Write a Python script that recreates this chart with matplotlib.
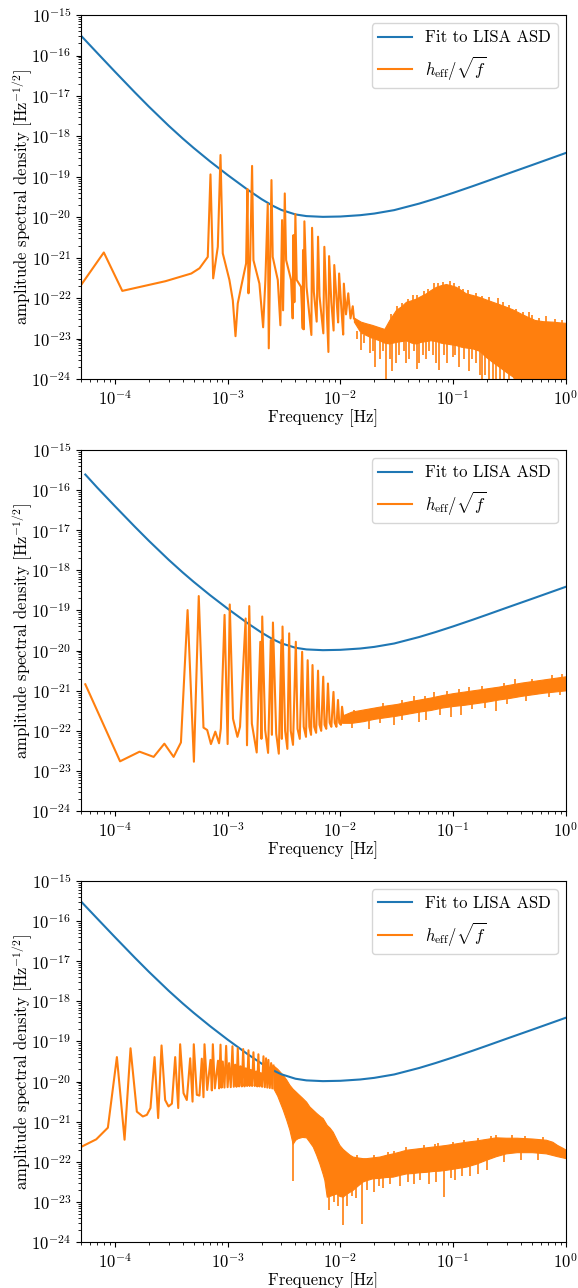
import matplotlib
matplotlib.use("Agg")
import matplotlib.pyplot as plt
from matplotlib.ticker import LogLocator, NullFormatter
import numpy as np

plt.rcParams["font.family"] = "serif"
plt.rcParams["font.serif"] = ["cmr10"]
plt.rcParams["mathtext.fontset"] = "cm"
plt.rcParams["axes.formatter.use_mathtext"] = True
plt.rcParams["axes.unicode_minus"] = False
plt.rcParams["font.size"] = 12

# LISA ASD fit, Hz and Hz^-1/2
asd_f = [5e-5, 7e-5, 1e-4, 1.5e-4, 2e-4, 3e-4, 4e-4, 5e-4, 7e-4, 1e-3, 1.5e-3,
         2e-3, 2.5e-3, 3e-3, 4e-3, 5e-3, 7e-3, 1e-2, 1.5e-2, 2e-2, 3e-2, 5e-2,
         7e-2, 0.1, 0.15, 0.2, 0.3, 0.5, 0.7, 1.0]
asd_v = [3.11e-16, 1.146e-16, 4.00e-17, 1.234e-17, 5.48e-18, 1.837e-18, 8.86e-19,
         5.18e-19, 2.40e-19, 1.112e-19, 4.85e-20, 2.81e-20, 1.94e-20, 1.517e-20,
         1.176e-20, 1.070e-20, 1.025e-20, 1.045e-20, 1.127e-20, 1.237e-20,
         1.503e-20, 2.18e-20, 2.90e-20, 4.01e-20, 5.91e-20, 7.85e-20, 1.178e-19,
         1.951e-19, 2.73e-19, 3.90e-19]
asd_start2 = (5.47e-5, 2.45e-16)  # second panel's series begins a bit later

# h_eff/sqrt(f): line part as (log10 f, log10 asd)
line1 = [(-4.301, -21.68), (-4.098, -20.87), (-3.934, -21.82), (-3.551, -21.58),
         (-3.322, -21.39), (-3.249, -21.26), (-3.176, -20.98), (-3.152, -18.94),
         (-3.128, -21.51), (-3.087, -20.73), (-3.063, -18.46), (-3.043, -20.89),
         (-2.984, -21.55), (-2.954, -22.05), (-2.930, -22.94), (-2.910, -22.13),
         (-2.880, -21.72), (-2.836, -21.14), (-2.824, -19.30), (-2.815, -21.88),
         (-2.800, -21.06), (-2.783, -18.73), (-2.771, -21.06), (-2.718, -21.64),
         (-2.685, -22.72), (-2.665, -21.55), (-2.644, -19.67), (-2.635, -23.24),
         (-2.611, -19.08), (-2.600, -20.98), (-2.555, -21.55), (-2.532, -22.67),
         (-2.517, -20.07), (-2.508, -22.30), (-2.493, -19.41), (-2.481, -21.06),
         (-2.437, -21.55), (-2.423, -22.50), (-2.416, -20.44), (-2.408, -22.10),
         (-2.399, -19.92), (-2.387, -21.55), (-2.349, -21.72), (-2.334, -22.75),
         (-2.331, -20.81), (-2.325, -22.77), (-2.319, -20.10), (-2.300, -21.72),
         (-2.257, -22.91), (-2.251, -20.26), (-2.235, -21.85), (-2.210, -22.58),
         (-2.198, -20.48), (-2.185, -21.95), (-2.151, -22.87), (-2.142, -20.73),
         (-2.125, -22.00), (-2.106, -23.33), (-2.100, -20.96), (-2.080, -22.10),
         (-2.060, -22.80), (-2.054, -21.18), (-2.030, -22.20), (-2.020, -22.60),
         (-2.011, -21.39), (-1.990, -22.30), (-1.975, -22.90), (-1.969, -21.64),
         (-1.950, -22.40), (-1.930, -21.88), (-1.910, -22.50), (-1.890, -22.20),
         (-1.880, -22.50)]

line2 = [(-4.262, -20.84), (-3.954, -22.76), (-3.781, -22.52), (-3.656, -22.65),
         (-3.561, -22.32), (-3.479, -22.65), (-3.414, -22.29), (-3.355, -18.99),
         (-3.299, -22.77), (-3.256, -18.64), (-3.214, -21.92), (-3.181, -21.98),
         (-3.148, -22.33), (-3.109, -22.02), (-3.076, -22.31), (-3.060, -21.94),
         (-3.027, -19.11), (-3.000, -22.33), (-2.981, -18.85), (-2.952, -21.70),
         (-2.913, -22.15), (-2.890, -21.90), (-2.840, -19.20), (-2.828, -22.36),
         (-2.808, -18.89), (-2.785, -21.82), (-2.742, -22.54), (-2.710, -19.78),
         (-2.700, -22.20), (-2.693, -19.15), (-2.667, -21.98), (-2.641, -22.55),
         (-2.617, -19.74), (-2.607, -22.10), (-2.598, -19.30), (-2.569, -22.07),
         (-2.546, -22.57), (-2.523, -19.74), (-2.519, -22.20), (-2.513, -19.40),
         (-2.490, -22.00), (-2.470, -22.45), (-2.454, -19.57), (-2.440, -22.00),
         (-2.420, -22.35), (-2.395, -19.78), (-2.380, -21.95), (-2.360, -22.20),
         (-2.339, -20.03), (-2.325, -21.90), (-2.305, -22.15), (-2.290, -20.24),
         (-2.275, -21.90), (-2.260, -22.10), (-2.247, -20.36), (-2.232, -21.90),
         (-2.215, -22.05), (-2.198, -20.50), (-2.185, -21.85), (-2.170, -22.00),
         (-2.152, -20.65), (-2.140, -21.85), (-2.125, -21.95), (-2.110, -20.82),
         (-2.095, -21.80), (-2.080, -21.90), (-2.061, -21.03), (-2.050, -21.80),
         (-2.035, -21.90), (-2.021, -21.23), (-2.010, -21.80), (-1.995, -21.85),
         (-1.985, -21.40), (-1.970, -21.75)]

line3 = [(-4.307, -21.64), (-4.165, -21.44), (-4.062, -21.15), (-3.982, -19.39),
         (-3.914, -21.45), (-3.861, -19.17), (-3.805, -20.75), (-3.752, -20.87),
         (-3.716, -20.83), (-3.684, -20.66), (-3.648, -19.39), (-3.616, -20.91),
         (-3.586, -19.10), (-3.554, -20.46), (-3.524, -20.62), (-3.494, -20.55),
         (-3.465, -19.39), (-3.438, -20.66), (-3.421, -19.07), (-3.391, -20.29),
         (-3.362, -20.46), (-3.332, -19.42), (-3.311, -20.50), (-3.300, -19.07),
         (-3.273, -20.33), (-3.250, -20.35), (-3.229, -19.43), (-3.214, -20.39),
         (-3.205, -19.07), (-3.181, -20.21), (-3.152, -19.46), (-3.140, -20.22),
         (-3.131, -19.07), (-3.113, -20.17), (-3.085, -19.48), (-3.075, -20.17),
         (-3.063, -19.08), (-3.053, -20.15), (-3.043, -19.50), (-3.028, -20.15),
         (-3.013, -19.11), (-3.000, -20.14), (-2.987, -19.54), (-2.972, -20.14),
         (-2.957, -19.12), (-2.945, -20.13), (-2.933, -19.58), (-2.921, -20.13),
         (-2.910, -19.17), (-2.898, -20.12), (-2.886, -19.62), (-2.874, -20.12),
         (-2.862, -19.19), (-2.850, -20.12), (-2.839, -19.67), (-2.827, -20.11),
         (-2.815, -19.22), (-2.805, -20.11), (-2.795, -19.71), (-2.783, -20.11),
         (-2.771, -19.27), (-2.759, -20.11), (-2.747, -19.75), (-2.737, -20.12),
         (-2.727, -19.32), (-2.717, -20.12), (-2.706, -19.79), (-2.694, -20.13),
         (-2.682, -19.37), (-2.670, -20.14), (-2.659, -19.42), (-2.648, -20.15),
         (-2.638, -19.46), (-2.626, -20.16), (-2.614, -19.54), (-2.604, -20.17),
         (-2.594, -19.60)]

# dense noisy part: (log10 f, upper, lower)
band1 = [(-1.88, -22.48, -22.58), (-1.82, -22.58, -22.85), (-1.773, -22.62, -22.91),
         (-1.72, -22.66, -22.98), (-1.655, -22.72, -23.04), (-1.61, -22.76, -23.10),
         (-1.566, -22.54, -23.12), (-1.507, -22.29, -23.08), (-1.46, -22.20, -23.06),
         (-1.418, -22.09, -23.04), (-1.37, -22.05, -23.10), (-1.33, -22.01, -23.12),
         (-1.29, -21.95, -23.08), (-1.241, -21.88, -23.06), (-1.20, -21.80, -23.04),
         (-1.152, -21.72, -23.06), (-1.11, -21.68, -23.10), (-1.064, -21.65, -23.12),
         (-1.02, -21.68, -23.14), (-0.975, -21.72, -23.16), (-0.93, -21.80, -23.20),
         (-0.887, -21.88, -23.22), (-0.83, -21.92, -23.24), (-0.768, -21.97, -23.30),
         (-0.71, -22.03, -23.45), (-0.65, -22.09, -23.58), (-0.59, -22.15, -23.70),
         (-0.532, -22.21, -23.82), (-0.47, -22.28, -23.94), (-0.40, -22.38, -24.3),
         (-0.34, -22.46, -24.3), (-0.275, -22.54, -24.3), (-0.20, -22.57, -24.3),
         (-0.12, -22.58, -24.3), (-0.05, -22.60, -24.3), (0.0, -22.61, -24.3)]

band2 = [(-1.985, -21.62, -21.80), (-1.90, -21.52, -21.80), (-1.80, -21.47, -21.76),
         (-1.70, -21.42, -21.70), (-1.60, -21.37, -21.66), (-1.50, -21.33, -21.62),
         (-1.40, -21.27, -21.57), (-1.30, -21.22, -21.52), (-1.20, -21.17, -21.48),
         (-1.10, -21.11, -21.42), (-1.00, -21.06, -21.38), (-0.90, -21.02, -21.35),
         (-0.80, -20.98, -21.31), (-0.70, -20.94, -21.27), (-0.60, -20.90, -21.22),
         (-0.50, -20.85, -21.18), (-0.40, -20.80, -21.13), (-0.30, -20.76, -21.09),
         (-0.20, -20.72, -21.05), (-0.10, -20.68, -21.02), (0.0, -20.64, -20.99)]

band3 = [(-2.594, -19.60, -20.17), (-2.56, -19.68, -20.35), (-2.511, -19.83, -20.70),
         (-2.48, -19.95, -20.95), (-2.452, -20.08, -21.20), (-2.423, -20.18, -21.55),
         (-2.40, -20.24, -21.45), (-2.378, -20.30, -21.41), (-2.34, -20.40, -21.38),
         (-2.304, -20.50, -21.39), (-2.275, -20.62, -21.50), (-2.245, -20.70, -21.62),
         (-2.215, -20.78, -21.82), (-2.186, -20.85, -22.04), (-2.157, -20.91, -22.30),
         (-2.142, -20.98, -22.45), (-2.121, -21.08, -22.87), (-2.095, -21.15, -22.85),
         (-2.068, -21.25, -22.82), (-2.038, -21.42, -22.79), (-2.009, -21.58, -22.85),
         (-1.979, -21.68, -22.87), (-1.95, -21.75, -22.80), (-1.92, -21.82, -22.75),
         (-1.891, -21.87, -22.70), (-1.85, -21.89, -22.60), (-1.802, -21.91, -22.49),
         (-1.773, -21.91, -22.46), (-1.714, -21.89, -22.41), (-1.654, -21.87, -22.40),
         (-1.60, -21.83, -22.38), (-1.536, -21.79, -22.37), (-1.48, -21.75, -22.33),
         (-1.418, -21.70, -22.29), (-1.36, -21.68, -22.28), (-1.30, -21.66, -22.26),
         (-1.241, -21.64, -22.25), (-1.182, -21.62, -22.23), (-1.12, -21.60, -22.22),
         (-1.064, -21.58, -22.20), (-0.975, -21.54, -22.16), (-0.886, -21.50, -22.12),
         (-0.80, -21.47, -22.05), (-0.709, -21.43, -21.95), (-0.621, -21.39, -21.86),
         (-0.532, -21.40, -21.79), (-0.436, -21.40, -21.76), (-0.30, -21.42, -21.76),
         (-0.177, -21.45, -21.79), (-0.12, -21.50, -21.83), (-0.078, -21.58, -21.86),
         (-0.03, -21.65, -21.89), (0.0, -21.70, -21.91)]

# single spikes sticking out of the noise: (log10 f, from, to)
spikes1 = [(-1.85, -23.0, -22.8), (-1.817, -23.28, -22.85), (-1.79, -23.1, -22.9),
           (-1.74, -23.35, -22.95), (-1.71, -23.3, -23.0), (-1.69, -23.7, -23.0),
           (-1.65, -23.5, -23.0), (-1.62, -23.3, -23.05), (-1.595, -24.3, -23.1),
           (-1.56, -23.5, -23.1), (-1.54, -23.8, -23.1), (-1.507, -23.6, -23.05),
           (-1.48, -23.4, -23.05), (-1.44, -23.3, -23.0), (-1.42, -23.6, -23.0),
           (-1.39, -23.5, -23.05), (-1.35, -23.3, -23.05), (-1.324, -23.74, -23.05),
           (-1.30, -23.6, -23.05), (-1.27, -23.4, -23.05), (-1.24, -23.5, -23.0),
           (-1.21, -23.3, -23.0), (-1.18, -23.4, -23.0), (-1.15, -23.6, -23.0),
           (-1.123, -23.78, -23.05), (-1.08, -23.4, -23.05), (-1.05, -23.6, -23.05),
           (-1.0, -23.45, -23.1), (-0.98, -23.4, -23.1), (-0.95, -23.7, -23.1),
           (-0.90, -23.5, -23.15), (-0.86, -23.8, -23.15), (-0.83, -23.5, -23.2),
           (-0.80, -23.6, -23.2), (-0.76, -23.9, -23.25), (-0.74, -24.3, -23.3),
           (-0.72, -23.9, -23.35), (-0.68, -24.3, -23.45), (-0.65, -24.3, -23.5),
           (-0.62, -24.0, -23.6), (-0.58, -24.3, -23.65), (-0.55, -24.3, -23.75),
           (-0.50, -24.3, -23.85),
           (-1.55, -22.6, -22.38), (-1.50, -22.4, -22.2), (-1.45, -22.3, -22.12),
           (-1.40, -22.2, -22.02), (-1.36, -22.1, -21.92), (-1.32, -22.1, -21.93),
           (-1.26, -22.0, -21.82), (-1.22, -21.95, -21.78), (-1.17, -21.85, -21.62),
           (-1.13, -21.8, -21.62), (-1.09, -21.78, -21.60), (-1.03, -21.76, -21.58),
           (-0.99, -21.8, -21.63), (-0.95, -21.86, -21.70), (-0.91, -21.95, -21.78),
           (-0.87, -21.98, -21.80), (-0.80, -22.05, -21.88), (-0.74, -22.1, -21.94),
           (-0.68, -22.15, -21.98), (-0.60, -22.25, -22.0), (-0.56, -22.28, -22.10),
           (-0.50, -22.35, -22.18), (-0.44, -22.42, -22.26), (-0.38, -22.5, -22.33),
           (-0.33, -22.55, -22.33), (-0.30, -22.6, -22.42), (-0.24, -22.65, -22.48),
           (-0.18, -22.65, -22.45), (-0.10, -22.7, -22.52), (-0.03, -22.7, -22.55)]

spikes2 = [(-1.90, -21.92, -21.75), (-1.75, -21.95, -21.7), (-1.65, -21.8, -21.6),
           (-1.52, -21.85, -21.6), (-1.45, -21.72, -21.55), (-1.30, -21.78, -21.5),
           (-1.24, -21.72, -21.45), (-1.12, -21.6, -21.4), (-1.02, -21.66, -21.4),
           (-0.93, -21.60, -21.35), (-0.83, -21.45, -21.28), (-0.72, -21.42, -21.25),
           (-0.62, -21.50, -21.22), (-0.52, -21.32, -21.15), (-0.35, -21.25, -21.08),
           (-0.15, -21.15, -21.0), (-0.05, -21.1, -20.95),
           (-1.88, -21.6, -21.47), (-1.62, -21.45, -21.30), (-1.45, -21.38, -21.22),
           (-1.35, -21.30, -21.14), (-1.25, -21.28, -21.12), (-1.17, -21.2, -21.02),
           (-1.05, -21.15, -21.0), (-0.95, -21.1, -20.96), (-0.86, -21.05, -20.9),
           (-0.74, -21.02, -20.88), (-0.55, -20.95, -20.8), (-0.45, -20.85, -20.72),
           (-0.30, -20.85, -20.70), (-0.12, -20.78, -20.62), (-0.03, -20.72, -20.58)]

spikes3 = [(-2.417, -22.49, -21.5), (-2.10, -23.2, -22.8), (-2.06, -23.0, -22.8),
           (-2.02, -23.1, -22.8), (-1.979, -23.58, -22.8), (-1.94, -23.1, -22.75),
           (-1.90, -22.85, -22.6), (-1.86, -22.9, -22.6), (-1.808, -23.55, -22.45),
           (-1.76, -22.7, -22.4), (-1.70, -22.75, -22.4), (-1.66, -22.6, -22.35),
           (-1.62, -22.65, -22.38), (-1.56, -22.55, -22.33), (-1.47, -22.6, -22.3),
           (-1.40, -22.5, -22.25), (-1.35, -22.55, -22.28), (-1.29, -22.45, -22.22),
           (-1.21, -22.55, -22.24), (-1.15, -22.5, -22.2), (-1.078, -22.87, -22.2),
           (-1.02, -22.4, -22.15), (-0.98, -22.45, -22.15), (-0.92, -22.35, -22.1),
           (-0.85, -22.35, -22.1), (-0.78, -22.3, -22.0), (-0.70, -22.2, -21.95),
           (-0.55, -22.0, -21.78), (-0.40, -21.95, -21.74), (-0.25, -21.95, -21.75),
           (-1.85, -21.95, -21.82), (-1.70, -21.95, -21.82), (-1.58, -21.9, -21.75),
           (-1.52, -21.85, -21.72), (-1.42, -21.8, -21.64), (-1.26, -21.75, -21.58),
           (-1.16, -21.72, -21.56), (-1.13, -21.65, -21.52), (-1.00, -21.68, -21.50),
           (-0.90, -21.62, -21.45), (-0.78, -21.58, -21.40), (-0.66, -21.52, -21.35),
           (-0.62, -21.45, -21.33), (-0.48, -21.5, -21.34), (-0.36, -21.5, -21.35),
           (-0.20, -21.55, -21.38)]

blue = "#1f77b4"
orange = "#ff7f0e"

fig = plt.figure(figsize=(5.78, 12.88), dpi=100)
rects = [[0.140, 0.7057, 0.839, 0.2826],
         [0.140, 0.3703, 0.839, 0.2803],
         [0.140, 0.0357, 0.839, 0.2803]]

panels = [(line1, band1, spikes1), (line2, band2, spikes2), (line3, band3, spikes3)]

for i, (line, band, spikes) in enumerate(panels):
    ax = fig.add_axes(rects[i])
    bf = list(asd_f)
    bv = list(asd_v)
    if i == 1:
        bf[0], bv[0] = asd_start2
    ax.plot(bf, bv, color=blue, lw=1.5, label="Fit to LISA ASD")

    lf, ly = np.array(line).T
    ax.plot(10 ** lf, 10 ** ly, color=orange, lw=1.5,
            label=r"$h_\mathrm{eff}/\sqrt{f}$")
    nf, nhi, nlo = np.array(band).T
    ax.fill_between(10 ** nf, 10 ** nlo, 10 ** nhi, color=orange, lw=0.8)
    sf, s0, s1 = np.array(spikes).T
    ax.vlines(10 ** sf, 10 ** s0, 10 ** s1, color=orange, lw=1.2)

    ax.set_xscale("log")
    ax.set_yscale("log")
    ax.set_xlim(5e-5, 1)
    ax.set_ylim(1e-24, 1e-15)
    ax.xaxis.set_major_locator(LogLocator(base=10, numticks=20))
    ax.yaxis.set_major_locator(LogLocator(base=10, numticks=20))
    ax.xaxis.set_minor_locator(LogLocator(base=10, subs=np.arange(2, 10), numticks=200))
    ax.yaxis.set_minor_locator(LogLocator(base=10, subs=np.arange(2, 10), numticks=200))
    ax.xaxis.set_minor_formatter(NullFormatter())
    ax.yaxis.set_minor_formatter(NullFormatter())
    ax.tick_params(labelsize=12)
    ax.set_xlabel("Frequency [Hz]", fontsize=12, labelpad=1)
    ax.set_ylabel(r"amplitude spectral density [Hz$^{-1/2}$]", fontsize=12,
                  labelpad=-3)
    ax.legend(loc="upper right", fontsize=12)

fig.savefig("out.png", dpi=100)
